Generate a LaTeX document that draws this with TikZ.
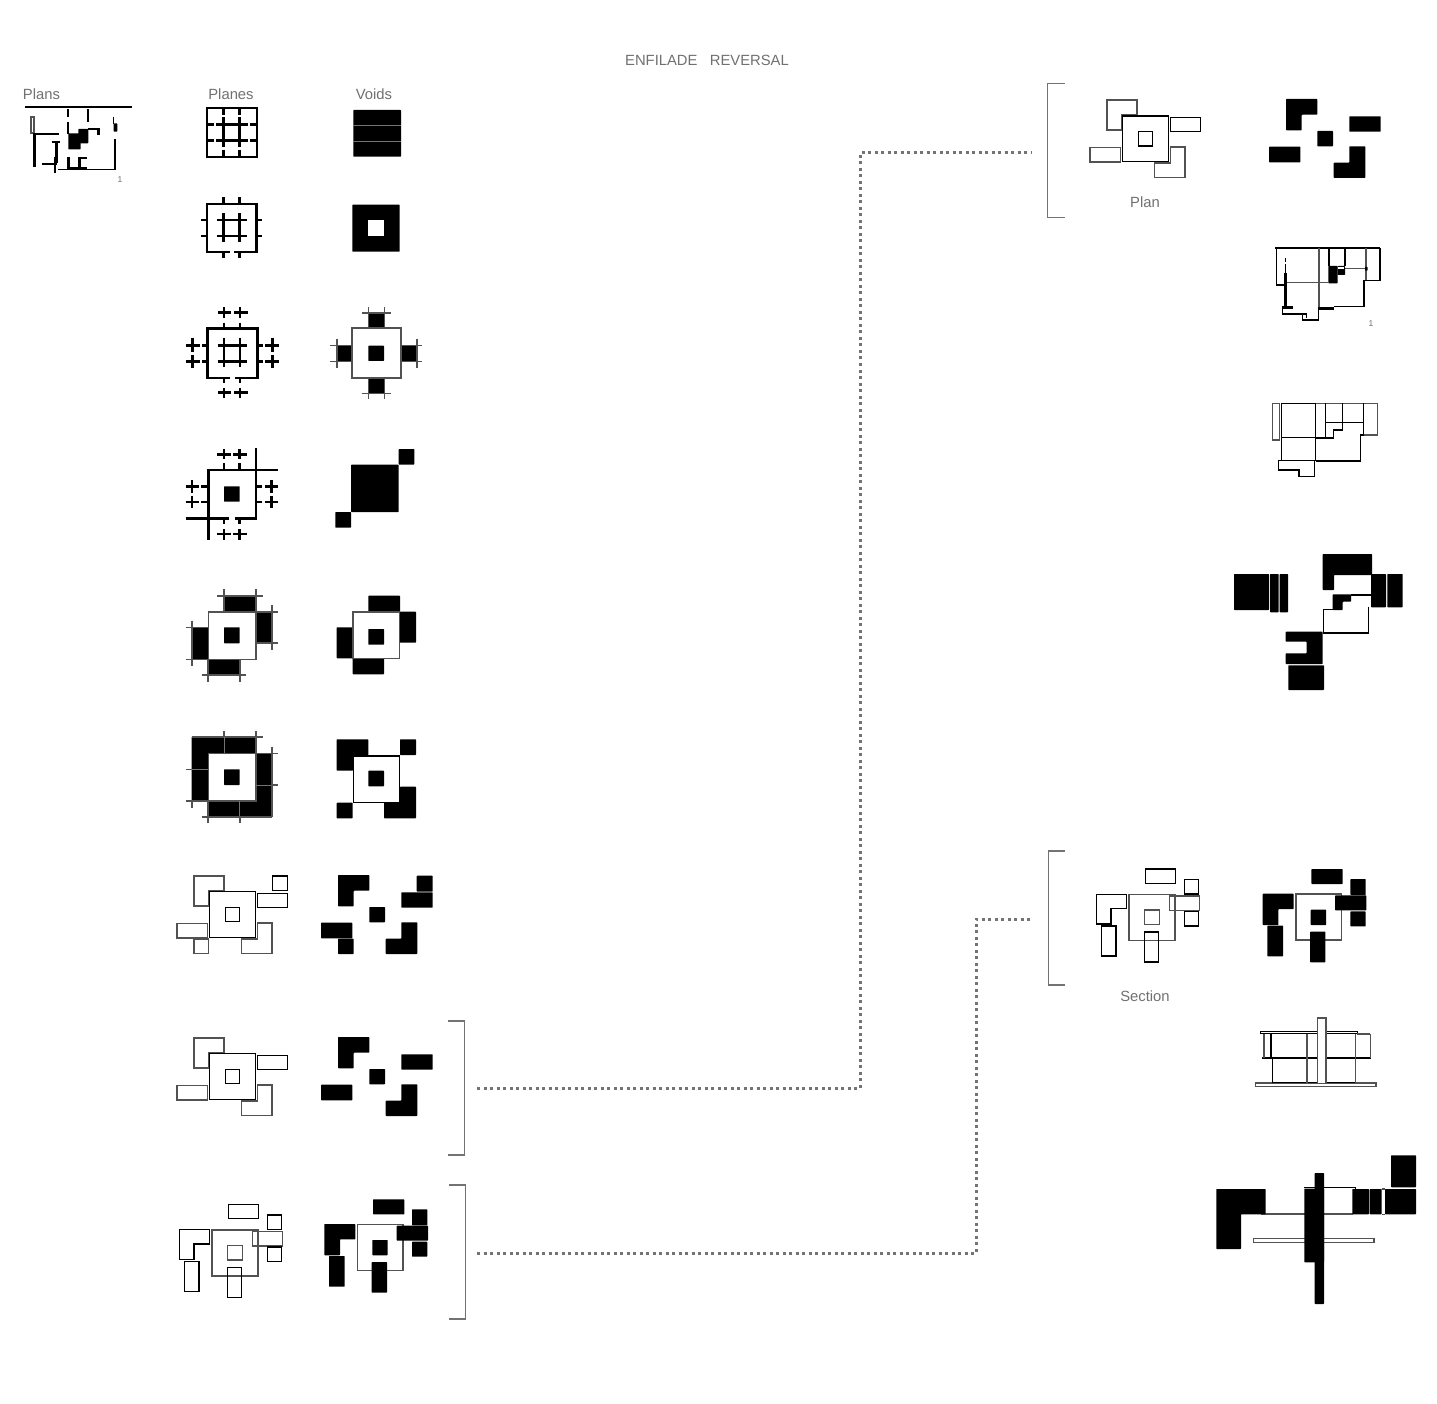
\documentclass[tikz,border=0pt]{standalone}
\usepackage{xcolor}
\usepackage{fontspec}
\setmainfont{Liberation Sans}
\definecolor{inkgray}{RGB}{112,112,112}
\definecolor{linkgray}{RGB}{115,115,115}

\begin{document}
\begin{tikzpicture}[
    x=1pt, y=-1pt,
    caption/.style={text=inkgray, inner sep=0pt, font=\fontsize{14.8}{16}\selectfont},
    tinycaption/.style={text=inkgray, inner sep=0pt, font=\fontsize{8.5}{9}\selectfont},
    heavy/.style={draw=black, line width=2.9pt},
    wall/.style={draw=black, line width=2.8pt},
    planwall/.style={draw=black, line width=2pt},
    hair/.style={draw=black, line width=1.2pt},
    softhair/.style={draw=black!68, line width=1.6pt},
    voidfill/.style={fill=black, rounded corners=.6pt},
    seam/.style={draw=black!55, line width=.5pt},
    bracket/.style={draw=linkgray, line width=1.8pt},
    link/.style={draw=linkgray, line width=3pt, dash pattern=on 3pt off 3.5pt},
    pinwheelplane/.pic={
      \draw[softhair] (-15.3,-16) -- (14.7,-16) -- (14.7,-.7) -- (-1,-.7) -- (-1,14) -- (-15.3,14) -- cycle;
      \draw[hair] (0,0) rectangle (46.4,45.6);
      \draw[hair] (16,15.6) rectangle (30.4,30);
      \draw[hair] (48,1.6) rectangle (78,15.6);
      \draw[softhair] (-32.3,31.6) rectangle (-2,46);
      \draw[softhair] (48,31.3) -- (62.7,31.3) -- (62.7,61.6) -- (32,61.6) -- (32,47.3) -- (48,47.3) -- cycle;
    },
    pinwheelvoid/.pic={
      \fill[voidfill] (0,0) rectangle (15.7,15.3);
      \fill[voidfill] (-31.3,-32) -- (0,-32) -- (0,-16.3) -- (-15.6,-16.3) -- (-15.6,-.7) -- (-31.3,-.7) -- cycle;
      \fill[voidfill] (32,-14.7) rectangle (63.4,.7);
      \fill[voidfill] (-48.3,15.7) rectangle (-17,31.3);
      \fill[voidfill] (32,15.3) -- (48,15.3) -- (48,47) -- (16.4,47) -- (16.4,31.7) -- (32,31.7) -- cycle;
    },
    sectionplane/.pic={
      \draw[softhair] (0,0) rectangle (46,46);
      \draw[softhair] (15.3,15.6) rectangle (30.3,30.3);
      \draw[hair] (16.3,-25.4) rectangle (46.7,-11);
      \draw[hair] (55.3,-14.7) rectangle (69.7,-.4);
      \draw[softhair] (40.3,1.6) rectangle (70.3,16);
      \draw[hair] (55.3,17.3) rectangle (69.7,31.6);
      \draw[hair] (-32.3,0) -- (-2.7,0) -- (-2.7,14.3) -- (-18,14.3) -- (-18,29.6) -- (-32.3,29.6) -- cycle;
      \draw[hair] (-27.7,31.6) rectangle (-13,61.6);
      \draw[hair] (15.3,37.6) rectangle (29.7,67.6);
    },
    sectionvoid/.pic={
      \draw[softhair] (0,0) rectangle (45.7,46);
      \fill[voidfill] (15,15.7) rectangle (30.4,31);
      \fill[voidfill] (15.7,-25) rectangle (47,-10);
      \fill[voidfill] (54.7,-15) rectangle (70,1);
      \fill[voidfill] (39.4,1.4) rectangle (70.7,16.4);
      \fill[voidfill] (54.7,17.4) rectangle (70,32.4);
      \fill[voidfill] (-33,-.3) -- (-2,-.3) -- (-2,15) -- (-17.3,15) -- (-17.3,31) -- (-33,31) -- cycle;
      \fill[voidfill] (-28.3,31.7) rectangle (-12.6,62.4);
      \fill[voidfill] (14.4,37.7) rectangle (29.7,68.4);
    }
  ]
    \useasboundingbox (0,0) rectangle (1437,1404);

    \node[caption] (title) at (707,60) {ENFILADE\ \ \ REVERSAL};
    \node[caption] (planscap) at (41.5,94.5) {Plans};
    \node[caption] (planescap) at (231,94.5) {Planes};
    \node[caption] (voidscap) at (374,94.5) {Voids};
    \node[tinycaption] (plansnum) at (120,179.5) {1};
    \node[caption] (plancap) at (1145,202) {Plan};
    \node[tinycaption] (plannum) at (1371,324) {1};
    \node[caption] (sectioncap) at (1145,996.5) {Section};

    % small plan on the left
    \draw[heavy] (25,107) -- (131.7,107);
    \draw[planwall] (68,109) -- (68,117.3) (87.7,109) -- (87.7,122.3) (68,121.7) -- (68,134);
    \draw[hair] (113.7,116.7) -- (113.7,124);
    \fill[voidfill] (113.7,123.3) rectangle (117.3,131.7);
    \draw[planwall] (115,139.3) -- (115,170);
    \draw[hair] (58.3,169.2) -- (115,169.2);
    \draw[softhair] (31,117.3) rectangle (34,133.3);
    \draw[heavy] (34.5,133.3) -- (34.5,166.7);
    \draw[planwall] (34,134) -- (59.3,134);
    \fill[voidfill] (68.3,133.3) rectangle (80.7,149.3);
    \fill[voidfill] (78.3,129) rectangle (88.3,143.3);
    \draw[planwall] (88,129.3) -- (100,129.3);
    \draw[wall] (98.7,129) -- (98.7,135.5);
    \draw[planwall] (51.5,141.8) -- (59.5,141.8);
    \draw[heavy] (56.3,141.7) -- (56.3,163.3);
    \draw[planwall] (41.7,164.3) -- (56.7,164.3);
    \draw[heavy] (55,156.7) -- (55,173.3);
    \draw[heavy] (68.3,156.7) -- (68.3,170) (79.3,156.7) -- (79.3,170);
    \draw[planwall] (79.3,157.7) -- (86.7,157.7);
    \draw[heavy] (66.7,168.7) -- (86.7,168.7);

    % row one
    \draw[heavy] (207,108) rectangle (257,157);
    \draw[wall] (223.7,108) -- (223.7,114.8) (223.7,117.2) -- (223.7,147.2) (223.7,149.6) -- (223.7,157);
    \draw[wall] (239.7,108) -- (239.7,114.8) (239.7,117.2) -- (239.7,147.2) (239.7,149.6) -- (239.7,157);
    \draw[wall] (207,124.3) -- (213.5,124.3) (216,124.3) -- (247.5,124.3) (250,124.3) -- (257,124.3);
    \draw[wall] (207,140.3) -- (213.5,140.3) (216,140.3) -- (247.5,140.3) (250,140.3) -- (257,140.3);
    \fill[voidfill] (353.3,110) rectangle (401,156.7);
    \draw[seam] (353.3,125) -- (401,125) (353.3,141.7) -- (401,141.7);

    % row two
    \draw[heavy] (230,252) -- (207,252) -- (207,204) -- (256.7,204) -- (256.7,252) -- (234,252);
    \draw[wall] (223.7,197.3) -- (223.7,204) (239.7,197.3) -- (239.7,204) (223.7,252) -- (223.7,258.5) (239.7,252) -- (239.7,258.5);
    \draw[wall] (201,220) -- (207,220) (201,236) -- (207,236) (257,220) -- (262.3,220) (257,236) -- (262.3,236);
    \draw[wall] (223.7,213) -- (223.7,242) (239.7,213) -- (239.7,242) (216.7,220) -- (246.7,220) (216.7,236) -- (246.7,236);
    \fill[voidfill] (352.3,204.7) rectangle (399.7,251.7);
    \fill[white] (368.3,220.3) rectangle (384,236);

    % row three
    \draw[heavy] (230,378) -- (207.7,378) -- (207.7,328.5) -- (257.7,328.5) -- (257.7,378) -- (235,378);
    \draw[wall] (224,338.3) -- (224,367.3) (240,338.3) -- (240,367.3) (217.7,345.7) -- (247.3,345.7) (217.7,361.7) -- (247.3,361.7);
    \draw[wall] (218.3,312.7) -- (231,312.7) (234.3,312.7) -- (247.7,312.7) (224,307.3) -- (224,318) (240,307.3) -- (240,318) (224,322.7) -- (224,328) (240,322.7) -- (240,328);
    \draw[wall] (218.3,392.7) -- (231,392.7) (234.3,392.7) -- (247.7,392.7) (224,388) -- (224,398.3) (240,388) -- (240,398.3) (224,378) -- (224,383) (240,378) -- (240,383);
    \draw[wall] (186,345.7) -- (200,345.7) (186,361.7) -- (200,361.7) (192.7,338.3) -- (192.7,352) (192.7,355) -- (192.7,368) (202.3,345.7) -- (207.3,345.7) (202.3,361.7) -- (207.3,361.7);
    \draw[wall] (265,345.7) -- (279.3,345.7) (265,361.7) -- (279.3,361.7) (272.7,338.3) -- (272.7,352) (272.7,355) -- (272.7,368) (258,345.7) -- (263.3,345.7) (258,361.7) -- (263.3,361.7);
    \fill[voidfill] (368.3,345.7) rectangle (384,361);
    \fill[voidfill] (368.3,313.3) rectangle (384.3,328.3);
    \fill[voidfill] (336.7,345.7) rectangle (351.7,361.7);
    \fill[voidfill] (400.7,345.7) rectangle (416.7,361.7);
    \fill[voidfill] (368.3,377.7) rectangle (384.3,393.3);
    \draw[softhair] (351.7,328.3) rectangle (400.7,377.7);
    \draw[softhair] (361.7,313.3) -- (390.7,313.3) (368.3,307.3) -- (368.3,328.3) (384.3,307.3) -- (384.3,328.3);
    \draw[softhair] (361.7,393.3) -- (390.7,393.3) (368.3,377.7) -- (368.3,399) (384.3,377.7) -- (384.3,399);
    \draw[softhair] (330,345.7) -- (351.7,345.7) (330,361.7) -- (351.7,361.7) (336.7,339) -- (336.7,368);
    \draw[softhair] (400.7,345.7) -- (422.3,345.7) (400.7,361.7) -- (422.3,361.7) (416.7,339) -- (416.7,368);

    % row four
    \draw[heavy] (229.3,518.3) -- (208.3,518.3) -- (208.3,470) -- (256,470) -- (256,518.3) -- (235,518.3);
    \draw[heavy] (256,448.3) -- (256,470) -- (277.7,470) (185.7,518.3) -- (208.3,518.3) -- (208.3,540);
    \fill[voidfill] (224,486.3) rectangle (239.7,501.7);
    \draw[wall] (217.3,454.3) -- (230.7,454.3) (233.3,454.3) -- (246.7,454.3) (224,449.3) -- (224,459.3) (239.7,449.3) -- (239.7,459.3) (224,463.3) -- (224,470) (239.7,463.3) -- (239.7,470);
    \draw[wall] (217.3,534) -- (230.7,534) (233.3,534) -- (246.7,534) (224,529.3) -- (224,540) (239.7,529.3) -- (239.7,540) (224,518.3) -- (224,524.3) (239.7,518.3) -- (239.7,524.3);
    \draw[wall] (185.7,486.3) -- (199,486.3) (185.7,502) -- (199,502) (192,480) -- (192,492.7) (192,495.7) -- (192,508.3) (201,486.3) -- (208.3,486.3) (201,502) -- (208.3,502);
    \draw[wall] (265,486.3) -- (278.3,486.3) (265,502) -- (278.3,502) (271.7,480) -- (271.7,492.7) (271.7,495.7) -- (271.7,508.3) (256,486.3) -- (262.3,486.3) (256,502) -- (262.3,502);
    \fill[voidfill] (351,464.7) rectangle (398.7,512);
    \fill[voidfill] (398.7,449) rectangle (414.3,464.7);
    \fill[voidfill] (335.3,512) rectangle (351,527.7);

    % row five
    \fill[voidfill] (224,627.3) rectangle (239.7,643.3);
    \fill[voidfill] (223.3,595.7) rectangle (256,611.7);
    \fill[voidfill] (256,611.7) rectangle (271.7,643.3);
    \fill[voidfill] (207.7,659.3) rectangle (240,675);
    \fill[voidfill] (191.7,627.3) rectangle (208.3,659.3);
    \draw[softhair] (208.3,611.7) rectangle (256,659.3);
    \draw[softhair] (217.3,595.7) -- (262.7,595.7) (224,589) -- (224,611.7) (256,589) -- (256,611.7);
    \draw[softhair] (271.7,605) -- (271.7,650) (256,611.7) -- (277.7,611.7) (256,642.7) -- (277.7,642.7);
    \draw[softhair] (191.7,620.7) -- (191.7,665.7) (185.7,627.3) -- (208.3,627.3) (185.7,659.3) -- (208.3,659.3);
    \draw[softhair] (201.7,675) -- (246,675) (207.7,659.3) -- (207.7,681.7) (239.7,659.3) -- (239.7,681.7);
    \fill[voidfill] (368.3,629) rectangle (384,644.7);
    \fill[voidfill] (368.3,595.7) rectangle (400,611.7);
    \fill[voidfill] (399.3,611.7) rectangle (416,642.7);
    \fill[voidfill] (352.7,658.3) rectangle (384,674.3);
    \fill[voidfill] (336.7,627.3) rectangle (353,658.3);
    \draw[softhair] (353,611.7) rectangle (399.3,658.3);

    % row six
    \fill[voidfill] (224,769.3) rectangle (239.7,785);
    \fill[voidfill] (191.7,736.7) -- (256,736.7) -- (256,753.3) -- (208.3,753.3) -- (208.3,800.7) -- (191.7,800.7) -- cycle;
    \fill[voidfill] (256,753.3) -- (271.7,753.3) -- (271.7,816.7) -- (207.7,816.7) -- (207.7,800.7) -- (256,800.7) -- cycle;
    \draw[softhair] (208.3,753.3) rectangle (256,800.7);
    \draw[softhair] (191.7,736.7) -- (262.7,736.7) (256,731) -- (256,753.3) (224,731) -- (224,737);
    \draw[seam] (224,737) -- (224,753.3) (191.7,769.3) -- (208.3,769.3) (256,785) -- (271.7,785) (239.7,800.7) -- (239.7,816.7);
    \draw[softhair] (271.7,746.7) -- (271.7,816.7) (256,753.3) -- (277.7,753.3) (271.7,785) -- (277.7,785);
    \draw[softhair] (185.7,769.3) -- (191.7,769.3) (185.7,800.7) -- (208.3,800.7) (191.7,800.7) -- (191.7,807.7);
    \draw[softhair] (201.7,816.7) -- (271.7,816.7) (207.7,800.7) -- (207.7,823.3) (239.7,816.7) -- (239.7,823.3);
    \fill[voidfill] (368.3,770.7) rectangle (384,786.3);
    \fill[voidfill] (336.7,739.3) -- (368.3,739.3) -- (368.3,755.7) -- (353,755.7) -- (353,770.7) -- (336.7,770.7) -- cycle;
    \fill[voidfill] (400,739.3) rectangle (416,755);
    \fill[voidfill] (336.7,802.7) rectangle (352.7,818.3);
    \fill[voidfill] (400,786.7) -- (416,786.7) -- (416,818.3) -- (384,818.3) -- (384,802.7) -- (400,802.7) -- cycle;
    \draw[hair] (353.3,756) rectangle (399.3,802.3);

    % rows seven to nine
    \pic at (209.3,891.7) {pinwheelplane};
    \draw[hair] (272.7,876) rectangle (287.3,890.7);
    \draw[softhair] (193.7,939) rectangle (208.3,953.3);
    \pic at (369.3,907) {pinwheelvoid};
    \fill[voidfill] (416.7,875.7) rectangle (432.7,891.7);
    \fill[voidfill] (338,938.7) rectangle (353.7,954);

    \pic at (209.3,1053.7) {pinwheelplane};
    \pic at (369.3,1069) {pinwheelvoid};

    \pic at (212,1229.7) {sectionplane};
    \pic at (357.3,1224.3) {sectionvoid};

    % brackets and links
    \draw[bracket] (447.5,1021) -- (464.5,1021) -- (464.5,1155) -- (447.5,1155);
    \draw[bracket] (449,1185) -- (465.5,1185) -- (465.5,1319) -- (449,1319);
    \draw[bracket] (1064.5,83.5) -- (1047.5,83.5) -- (1047.5,217.5) -- (1064.5,217.5);
    \draw[bracket] (1065,851) -- (1048.5,851) -- (1048.5,985) -- (1065,985);

    \coordinate (planfrom) at (477,1088);
    \coordinate (planbend) at (860,153);
    \coordinate (planto) at (1032,153);
    \coordinate (sectionfrom) at (477,1253);
    \coordinate (sectionbend) at (976,919);
    \coordinate (sectionto) at (1032,919);
    \draw[link] (planfrom) -| (planbend) -- (planto);
    \draw[link] (sectionfrom) -| (sectionbend) -- (sectionto);

    % plan column
    \pic at (1122.3,116) {pinwheelplane};
    \pic at (1317.3,131) {pinwheelvoid};

    \draw[heavy] (1275,248) -- (1380,248);
    \draw[heavy] (1319,248) -- (1319,258);
    \draw[planwall] (1329,248) -- (1329,266) (1344.7,248) -- (1344.7,266);
    \draw[softhair] (1319,248) -- (1319,307) (1365.7,248) -- (1365.7,281);
    \draw[softhair] (1285.7,282.7) -- (1328.3,282.7) (1345,268.7) -- (1366.7,268.7);
    \draw[hair] (1276.7,248) -- (1276.7,285) -- (1285,285);
    \draw[heavy] (1285.7,273.3) -- (1285.7,306.7);
    \draw[heavy] (1281.7,307.3) -- (1293.3,307.3);
    \draw[hair] (1282.7,307) -- (1282.7,314) -- (1306.7,314) -- (1306.7,318.5);
    \draw[hair] (1302.3,314) -- (1302.3,320) -- (1318.3,320) -- (1318.3,307);
    \draw[heavy] (1318.3,308.3) -- (1334.3,308.3);
    \draw[hair] (1334.3,306.7) -- (1364,306.7) -- (1364,280.7) -- (1380,280.7) -- (1380,248);
    \fill[voidfill] (1328.3,266) rectangle (1337.7,283.3);
    \fill[voidfill] (1337.7,275) rectangle (1345,266);
    \fill[white] (1338,267.5) rectangle (1344.2,269.5);
    \fill[voidfill] (1365,266.7) rectangle (1367.5,270.7);
    \draw[hair] (1285.5,258) -- (1285.5,262) (1285.5,264) -- (1285.5,273);

    \draw[softhair] (1272.3,403.3) rectangle (1279.3,440);
    \draw[softhair] (1315.7,403.3) -- (1377.3,403.3) -- (1377.3,435) -- (1363.7,435);
    \draw[hair] (1281.3,403.3) rectangle (1315.7,437.7);
    \draw[hair] (1281.3,437.7) rectangle (1315.7,460.7);
    \draw[hair] (1315.7,438) -- (1333.3,438) -- (1333.3,430) -- (1342.3,430) -- (1342.3,422.7);
    \draw[hair] (1325.7,403.3) -- (1325.7,438);
    \draw[hair] (1326,422.7) -- (1363.7,422.7);
    \draw[hair] (1342.3,403.3) -- (1342.3,422.7) (1363.7,403.3) -- (1363.7,435);
    \draw[hair] (1363.7,435) -- (1360.3,435) -- (1360.3,461) -- (1315.7,461);
    \draw[hair] (1278.7,460.7) -- (1314.7,460.7) -- (1314.7,476.3) -- (1299,476.3) -- (1299,470) -- (1278.7,470) -- cycle;

    \fill[voidfill] (1234,574) rectangle (1269,610);
    \fill[voidfill] (1270,574) rectangle (1278.7,612.3);
    \fill[voidfill] (1279.7,574) rectangle (1288,612.3);
    \fill[voidfill] (1322.7,554) -- (1372,554) -- (1372,575) -- (1334,575) -- (1334,590) -- (1322.7,590) -- cycle;
    \fill[voidfill] (1371,574) rectangle (1386,607.3);
    \fill[voidfill] (1387.3,574) rectangle (1402.7,607.3);
    \draw[hair] (1351,595) -- (1371,595) (1368.7,606.7) -- (1368.7,633) -- (1323.3,633) -- (1323.3,609.3) -- (1332.7,609.3);
    \fill[voidfill] (1332.7,594.3) -- (1351,594.3) -- (1351,601.7) -- (1342.7,601.7) -- (1342.7,610) -- (1332.7,610) -- cycle;
    \fill[voidfill] (1285.7,631.7) -- (1322.7,631.7) -- (1322.7,664) -- (1285.7,664) -- (1285.7,653.3) -- (1306.7,653.3) -- (1306.7,641.7) -- (1285.7,641.7) -- cycle;
    \fill[voidfill] (1288.3,665.3) rectangle (1324,690);

    % section column
    \pic at (1129,894.3) {sectionplane};
    \pic at (1295.7,894) {sectionvoid};

    \draw[softhair] (1255.3,1082.7) rectangle (1376,1086.3);
    \draw[hair] (1260.3,1031.7) rectangle (1357.3,1033.7);
    \draw[heavy, line width=1.8pt] (1262,1058.3) -- (1371.3,1058.3);
    \draw[softhair] (1264,1033.7) -- (1264,1058.3) (1355.3,1033.7) -- (1355.3,1082.7) (1370.3,1033.7) -- (1370.3,1058.3) (1357,1033.7) -- (1370.3,1033.7);
    \draw[hair] (1271,1033.7) -- (1271,1058.3) (1272.7,1058.3) -- (1272.7,1082.7) (1272.7,1082.7) -- (1355.3,1082.7);
    \draw[softhair] (1306.7,1033.7) -- (1306.7,1082.7);
    \fill[white] (1317.3,1017.7) rectangle (1325.7,1082.7);
    \draw[softhair] (1325.7,1082.7) -- (1325.7,1017.7) -- (1317.3,1017.7) -- (1317.3,1082.7);

    \draw[softhair] (1253.3,1238.3) rectangle (1374,1242.3);
    \draw[softhair] (1260.7,1214) -- (1305,1214) (1324,1214) -- (1353,1214);
    \draw[hair] (1304.3,1187.7) -- (1355.3,1187.7) -- (1355.3,1189);
    \fill[voidfill] (1216.3,1189) -- (1265.7,1189) -- (1265.7,1214.3) -- (1241,1214.3) -- (1241,1249) -- (1216.3,1249) -- cycle;
    \fill[voidfill] (1304.3,1188.5) rectangle (1324,1262.3);
    \fill[voidfill] (1314.7,1173) rectangle (1324,1304);
    \fill[voidfill] (1352.3,1189) rectangle (1369,1214.3);
    \fill[voidfill] (1369.7,1189) rectangle (1381.7,1214.3);
    \fill[voidfill] (1385,1189) rectangle (1416,1214.3);
    \fill[voidfill] (1391,1155.3) rectangle (1416,1187.3);
    \draw[softhair] (1381.7,1189) -- (1385,1189) (1381.7,1214.3) -- (1385,1214.3);
  \end{tikzpicture}
\end{document}
